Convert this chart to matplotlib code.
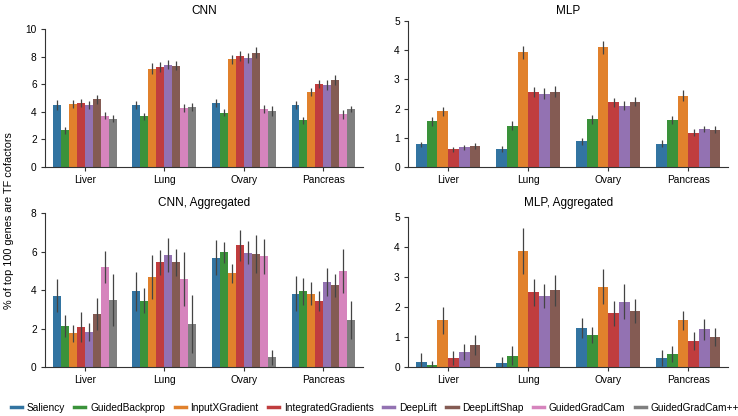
import colorsys
import numpy as np
import matplotlib
matplotlib.use("Agg")
import matplotlib.pyplot as plt
from matplotlib.lines import Line2D
from matplotlib import colors as mcolors

plt.rcParams['font.family'] = ['Liberation Sans', 'DejaVu Sans']

tissues = ["Liver", "Lung", "Ovary", "Pancreas"]
methods = ["Saliency", "GuidedBackprop", "InputXGradient", "IntegratedGradients",
           "DeepLift", "DeepLiftShap", "GuidedGradCam", "GuidedGradCam++"]
base_colors = ["tab:blue", "tab:green", "tab:orange", "tab:red",
               "tab:purple", "tab:brown", "tab:pink", "tab:gray"]

# rows = tissues, cols = methods
cnn_vals = [[4.52, 2.67, 4.55, 4.62, 4.52, 4.90, 3.71, 3.50],
            [4.52, 3.67, 7.12, 7.26, 7.43, 7.36, 4.29, 4.36],
            [4.62, 3.95, 7.81, 8.07, 7.90, 8.31, 4.19, 4.05],
            [4.50, 3.38, 5.45, 6.00, 5.95, 6.33, 3.81, 4.21]]
cnn_err = [[0.35, 0.25, 0.30, 0.30, 0.30, 0.30, 0.25, 0.25],
           [0.30, 0.25, 0.40, 0.35, 0.35, 0.35, 0.30, 0.30],
           [0.30, 0.25, 0.35, 0.35, 0.35, 0.40, 0.30, 0.35],
           [0.30, 0.25, 0.30, 0.30, 0.35, 0.35, 0.30, 0.25]]

mlp_vals = [[0.77, 1.56, 1.91, 0.60, 0.67, 0.72],
            [0.61, 1.41, 3.93, 2.56, 2.51, 2.58],
            [0.88, 1.63, 4.10, 2.22, 2.10, 2.23],
            [0.80, 1.61, 2.44, 1.18, 1.31, 1.27]]
mlp_err = [[0.10, 0.15, 0.15, 0.10, 0.08, 0.10],
           [0.10, 0.15, 0.22, 0.18, 0.18, 0.18],
           [0.12, 0.15, 0.22, 0.15, 0.15, 0.15],
           [0.12, 0.15, 0.18, 0.12, 0.10, 0.12]]

cnn_agg_vals = [[3.71, 2.15, 1.75, 2.08, 1.82, 2.75, 5.19, 3.50],
                [3.93, 3.45, 4.68, 5.44, 5.82, 5.44, 4.57, 2.25],
                [5.68, 5.97, 4.87, 6.32, 5.94, 5.87, 5.75, 0.50],
                [3.81, 3.93, 3.81, 3.43, 4.42, 4.24, 5.00, 2.44]]
cnn_agg_err = [[0.85, 0.57, 0.45, 0.76, 0.45, 0.83, 0.85, 1.35],
               [1.00, 0.65, 1.15, 0.65, 0.90, 0.70, 1.40, 1.50],
               [0.90, 0.55, 0.50, 0.80, 0.60, 0.97, 0.90, 0.40],
               [0.90, 0.70, 0.60, 0.50, 0.72, 0.60, 1.13, 0.97]]

mlp_agg_vals = [[0.18, 0.055, 1.55, 0.30, 0.49, 0.74],
                [0.12, 0.38, 3.86, 2.49, 2.37, 2.56],
                [1.31, 1.06, 2.68, 1.79, 2.18, 1.87],
                [0.31, 0.43, 1.55, 0.86, 1.25, 1.00]]
mlp_agg_err = [[0.28, 0.14, 0.46, 0.22, 0.27, 0.33],
               [0.21, 0.33, 0.76, 0.45, 0.40, 0.52],
               [0.33, 0.26, 0.58, 0.42, 0.57, 0.39],
               [0.27, 0.28, 0.33, 0.29, 0.34, 0.29]]


def desat(c, prop=0.75):
    r, g, b = mcolors.to_rgb(c)
    h, l, s = colorsys.rgb_to_hls(r, g, b)
    return colorsys.hls_to_rgb(h, l, s * prop)


pal = [desat(c) for c in base_colors]

fig = plt.figure(figsize=(7.38, 4.16), dpi=100)
positions = {
    "tl": [0.061, 0.5986, 0.431, 0.351],
    "tr": [0.553, 0.5986, 0.434, 0.351],
    "bl": [0.061, 0.1178, 0.431, 0.370],
    "br": [0.553, 0.1178, 0.434, 0.370],
}


def draw(pos, title, vals, errs, ymax, yticks):
    ax = fig.add_axes(pos)
    vals = np.array(vals)
    errs = np.array(errs)
    n = vals.shape[1]
    w = 0.8 / n
    x = np.arange(len(tissues))
    for j in range(n):
        xs = x - 0.4 + w * (j + 0.5)
        ax.bar(xs, vals[:, j], width=w, color=pal[j], linewidth=0)
        ax.vlines(xs, vals[:, j] - errs[:, j], vals[:, j] + errs[:, j],
                  color="#444444", linewidth=0.9, zorder=3)
    ax.set_xlim(-0.5, 3.5)
    ax.set_ylim(0, ymax)
    ax.set_yticks(yticks)
    ax.set_xticks(x)
    ax.set_xticklabels(tissues)
    ax.spines["top"].set_visible(False)
    ax.spines["right"].set_visible(False)
    ax.spines["left"].set_bounds(0, yticks[-1])
    for s in ("left", "bottom"):
        ax.spines[s].set_linewidth(0.8)
        ax.spines[s].set_color("#333333")
    ax.tick_params(labelsize=7.3, length=3, width=0.8, color="#333333", pad=3)
    ax.set_title(title, fontsize=8.5, pad=5)
    return ax


draw(positions["tl"], "CNN", cnn_vals, cnn_err, 10.6, [0, 2, 4, 6, 8, 10])
draw(positions["tr"], "MLP", mlp_vals, mlp_err, 5.0, [0, 1, 2, 3, 4, 5])
draw(positions["bl"], "CNN, Aggregated", cnn_agg_vals, cnn_agg_err, 8.0, [0, 2, 4, 6, 8])
draw(positions["br"], "MLP, Aggregated", mlp_agg_vals, mlp_agg_err, 5.13, [0, 1, 2, 3, 4, 5])

fig.text(0.012, 0.47, "% of top 100 genes are TF cofactors", rotation=90,
         ha="center", va="center", fontsize=7.8)

handles = [Line2D([0], [0], color=pal[i], lw=2.5) for i in range(len(methods))]
fig.legend(handles, methods, loc="center", bbox_to_anchor=(0.508, 0.02), ncol=8,
           frameon=False, fontsize=7.3, handlelength=1.1, handletextpad=0.45,
           columnspacing=0.95, borderpad=0.2)

fig.savefig("out.png", dpi=100)
